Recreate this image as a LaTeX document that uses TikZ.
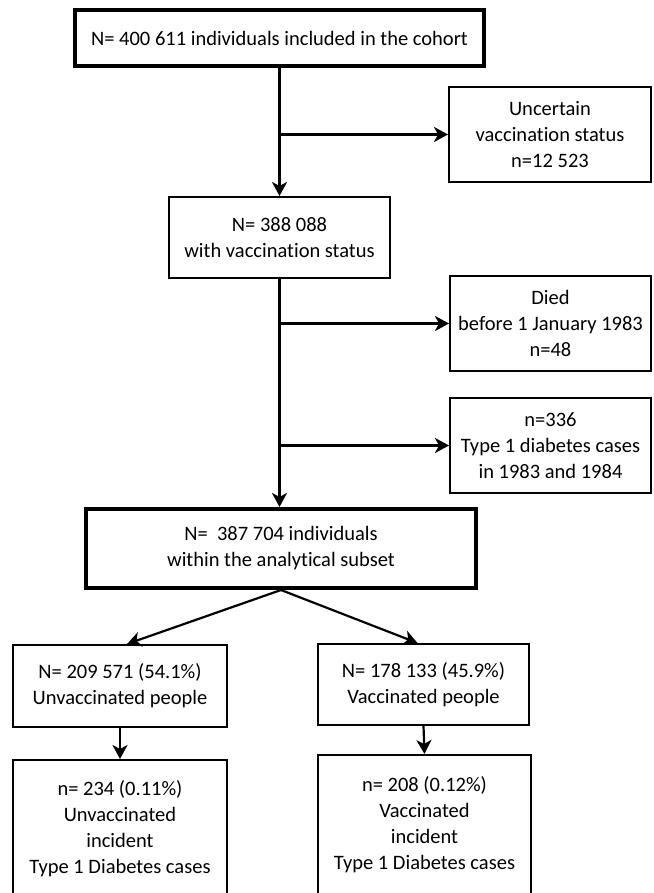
\documentclass[tikz,border=0pt]{standalone}
\usepackage{fontspec}
\setmainfont[Ligatures={NoCommon}]{Carlito}
\usetikzlibrary{arrows.meta}

\begin{document}
\begin{tikzpicture}[x=1pt,y=-1pt,
	box/.style={draw, line width=2pt, align=center, inner sep=0pt, font=\fontsize{20.5}{26}\selectfont},
	bigbox/.style={box, line width=4pt},
	arr/.style={-{Stealth[length=14pt,width=15pt,inset=4pt]}, line width=2.2pt}]
			\clip (0,0) rectangle (653,893);
			
			\node[bigbox, minimum width=409pt, minimum height=56pt] (cohort) at (279.5,38) {N= 400 611 individuals included in the cohort};
			\node[box, minimum width=202pt, minimum height=95pt] (uncertain) at (550,134.5) {Uncertain\\vaccination status\\n=12 523};
			\node[box, minimum width=221pt, minimum height=81pt] (status) at (279.5,237.5) {N= 388 088\\with vaccination status};
			\node[box, minimum width=201pt, minimum height=95pt] (died) at (550.5,323.5) {Died\\before 1 January 1983\\n=48};
			\node[box, minimum width=201pt, minimum height=95pt] (early) at (550.5,445.5) {n=336\\Type 1 diabetes cases\\in 1983 and 1984};
			\node[bigbox, minimum width=390pt, minimum height=79pt] (subset) at (281,548.5) {N=~ 387 704 individuals\\within the analytical subset};
			
			\node[box, minimum width=214pt, minimum height=82pt] (unvac) at (120,686) {N= 209 571 (54.1\%)\\Unvaccinated people};
			\node[box, minimum width=211pt, minimum height=81pt] (vac) at (423.5,684.5) {N= 178 133 (45.9\%)\\Vaccinated people};
			\node[box, minimum width=214pt, minimum height=137pt] (unvaccases) at (120,828.5) {n= 234 (0.11\%)\\Unvaccinated\\incident\\Type 1 Diabetes cases};
			\node[box, minimum width=213pt, minimum height=140pt] (vaccases) at (424.5,825) {n= 208 (0.12\%)\\Vaccinated\\incident\\Type 1 Diabetes cases};
			
			\draw[arr] (cohort.south) -- (status.north);
			\draw[arr] (cohort.south |- uncertain.west) -- (uncertain.west);
			\draw[arr] (status.south) -- (status.south |- subset.north);
			\draw[arr] (status.south |- died.west) -- (died.west);
			\draw[arr] (status.south |- early.west) -- (early.west);
			
			\draw[arr] (subset.south) -- ([xshift=7pt]unvac.north);
			\draw[arr] (subset.south) -- ([xshift=-6pt]vac.north);
			\draw[arr] (unvac.south) -- (unvaccases.north);
			\draw[arr] (vac.south) -- (vaccases.north);
			
\end{tikzpicture}
\end{document}
